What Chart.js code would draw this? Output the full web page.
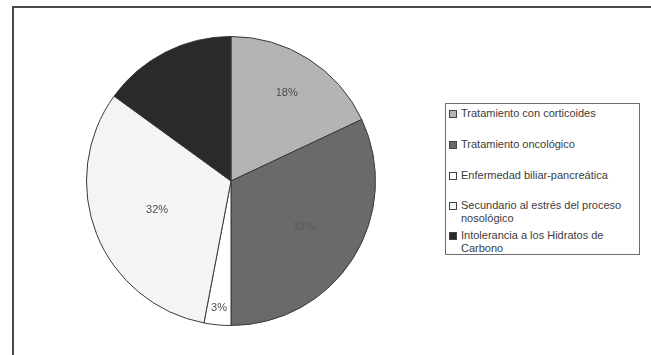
<!DOCTYPE html>
<html lang="es">
<head>
<meta charset="utf-8">
<script src="https://cdn.jsdelivr.net/npm/chart.js@4/dist/chart.umd.min.js"></script>
<style>
  html, body { margin: 0; padding: 0; background: #ffffff; }
  body { width: 651px; height: 355px; position: relative; overflow: hidden;
         font-family: "Liberation Sans", Arial, sans-serif; }
  #frame { position: absolute; left: 12px; top: 6px; width: 660px; height: 380px;
           border-left: 2px solid #4a4a4a; border-top: 2px solid #4a4a4a; }
  #pieWrap { position: absolute; left: 84px; top: 34px; width: 294px; height: 294px; }
  #legend { position: absolute; left: 445px; top: 103px; width: 195px; height: 152px;
            border: 1px solid #6e6e6e; background: #fff; box-sizing: border-box; }
  .item { position: absolute; left: 2px; width: 186px; display: flex; align-items: flex-start;
          font-size: 11px; line-height: 12.5px; color: #3c3c3c; }
  .sw { flex: 0 0 auto; width: 6px; height: 6px; border: 1px solid #444; margin: 3px 4px 0 1px; }
</style>
</head>
<body>
<div id="frame"></div>
<div id="pieWrap"><canvas id="pie" width="294" height="294"></canvas></div>
<div id="legend"></div>
<script>
// Causes of hyperglycaemia, share of cases (%)
const categories = [
  "Tratamiento con corticoides",
  "Tratamiento oncológico",
  "Enfermedad biliar-pancreática",
  "Secundario al estrés del proceso nosológico",
  "Intolerancia a los Hidratos de Carbono"
];
const shares = [18, 32, 3, 32, 15];
const sliceColors = ["#b4b4b4", "#6a6a6a", "#ffffff", "#f4f4f4", "#2a2a2a"];
const labelColors = ["#4c4c4c", "#5a5a5a", "#4c4c4c", "#4c4c4c", "#2c2c2c"];
// how far out (fraction of radius) each percentage label sits
const labelRadius = [0.72, 0.6, 0.88, 0.55, 0.6];

// percentage labels drawn at each slice's mid angle
const sliceLabels = {
  id: "sliceLabels",
  afterDatasetsDraw(chart) {
    const ctx = chart.ctx;
    const meta = chart.getDatasetMeta(0);
    ctx.save();
    ctx.font = '11px "Liberation Sans", Arial, sans-serif';
    ctx.textAlign = "center";
    ctx.textBaseline = "middle";
    meta.data.forEach((arc, i) => {
      const p = arc.getProps(["x", "y", "startAngle", "endAngle", "outerRadius"], true);
      const mid = (p.startAngle + p.endAngle) / 2;
      const r = p.outerRadius * labelRadius[i];
      ctx.fillStyle = labelColors[i];
      ctx.fillText(shares[i] + "%", p.x + Math.cos(mid) * r, p.y + Math.sin(mid) * r);
    });
    ctx.restore();
  }
};

new Chart(document.getElementById("pie"), {
  type: "pie",
  data: {
    labels: categories,
    datasets: [{
      data: shares,
      backgroundColor: sliceColors,
      borderColor: "#3a3a3a",
      borderWidth: 1
    }]
  },
  options: {
    responsive: false,
    animation: false,
    layout: { padding: 2 },
    plugins: { legend: { display: false }, tooltip: { enabled: false } }
  },
  plugins: [sliceLabels]
});

// legend box
const legend = document.getElementById("legend");
const rowTops = [3, 34, 65, 95, 125];
categories.forEach((name, i) => {
  const row = document.createElement("div");
  row.className = "item";
  row.style.top = rowTops[i] + "px";
  const sw = document.createElement("span");
  sw.className = "sw";
  sw.style.background = sliceColors[i];
  const tx = document.createElement("span");
  tx.textContent = name;
  row.appendChild(sw);
  row.appendChild(tx);
  legend.appendChild(row);
});
</script>
</body>
</html>
